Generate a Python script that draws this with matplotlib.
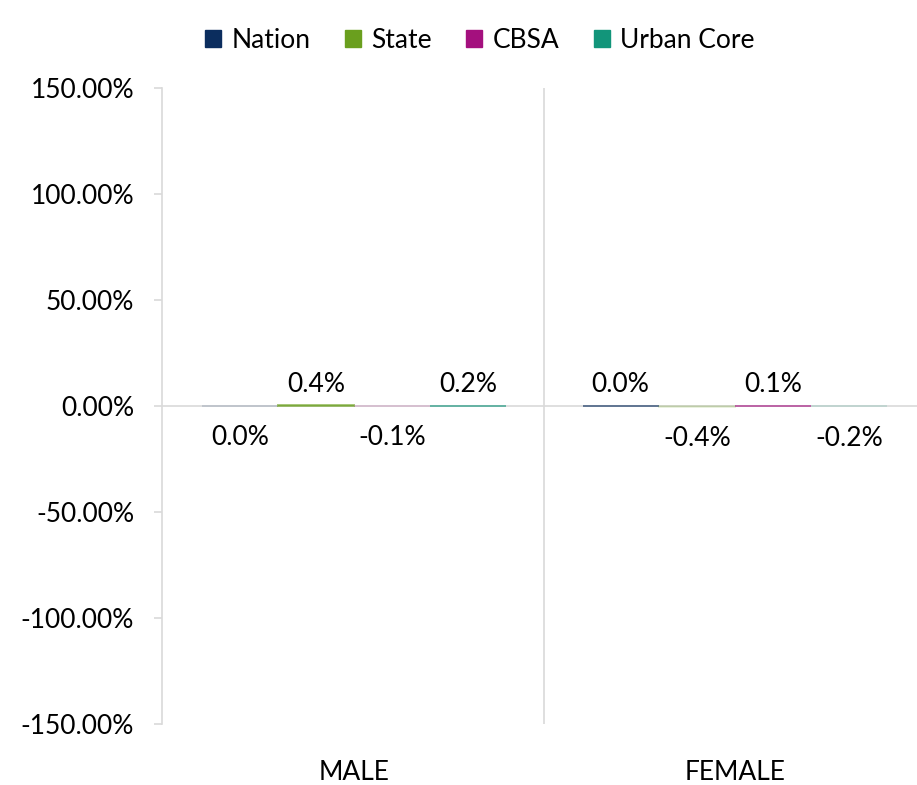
import matplotlib
matplotlib.use("Agg")
import matplotlib.pyplot as plt
import numpy as np
from matplotlib.patches import Patch

plt.rcParams['font.family'] = ['Lato', 'DejaVu Sans']

categories = ["MALE", "FEMALE"]
series_names = ["Nation", "State", "CBSA", "Urban Core"]
series_colors = ["#0b2d5e", "#6a9f1e", "#a4107e", "#12957a"]

# values in percent
nation = [-0.02, 0.02]
state = [0.4, -0.4]
cbsa = [-0.1, 0.1]
urban_core = [0.2, -0.2]
all_series = [nation, state, cbsa, urban_core]

yticks = [-150, -100, -50, 0, 50, 100, 150]

fig = plt.figure(figsize=(9.17, 7.85), dpi=100)
ax = fig.add_axes([162 / 917, 1 - 724 / 785, 755 / 917, 636 / 785])

x = np.arange(len(categories))
bw = 0.2
grid_col = "#d9d9d9"


def fmt(v):
    if round(v, 1) == 0:
        return f"{abs(v):.1f}%"
    return f"{v:.1f}%"


for i, (vals, col) in enumerate(zip(all_series, series_colors)):
    pos = x - 0.3 + i * bw
    bars = ax.bar(pos, vals, width=bw, color=col, edgecolor=col, linewidth=1.4, zorder=3)
    for b, px, v in zip(bars, pos, vals):
        # bars below zero show only faintly through the zero line
        b.set_alpha(0.6 if v >= 0 else 0.15)
        if v >= 0:
            ax.text(px, v + 4, fmt(v), ha="center", va="bottom", fontsize=19)
        else:
            ax.text(px, v - 9, fmt(v), ha="center", va="top", fontsize=19)

ax.axhline(0, color=grid_col, linewidth=1.2, zorder=1)
ax.axvline(0.5, color=grid_col, linewidth=1.2, zorder=1)

ax.set_xlim(-0.504, 1.478)
ax.set_ylim(-150, 150)
ax.set_yticks(yticks)
ax.set_yticklabels([f"{t:.2f}%" for t in yticks])
ax.set_xticks(x)
ax.set_xticklabels(categories)

ax.tick_params(axis="y", length=6, color=grid_col, width=1.2, pad=14, labelsize=19)
ax.tick_params(axis="x", length=0, pad=26, labelsize=19)

for s in ["top", "right", "bottom"]:
    ax.spines[s].set_visible(False)
ax.spines["left"].set_color(grid_col)
ax.spines["left"].set_linewidth(1.2)

handles = [Patch(facecolor=c, edgecolor=c) for c in series_colors]
fig.legend(handles, series_names, loc="center", bbox_to_anchor=(480 / 917, 1 - 40 / 785),
           ncol=4, frameon=False, fontsize=19, handlelength=0.6, handleheight=0.6,
           handletextpad=0.4, columnspacing=1.3)

fig.savefig("out.png", dpi=100, facecolor="white")
